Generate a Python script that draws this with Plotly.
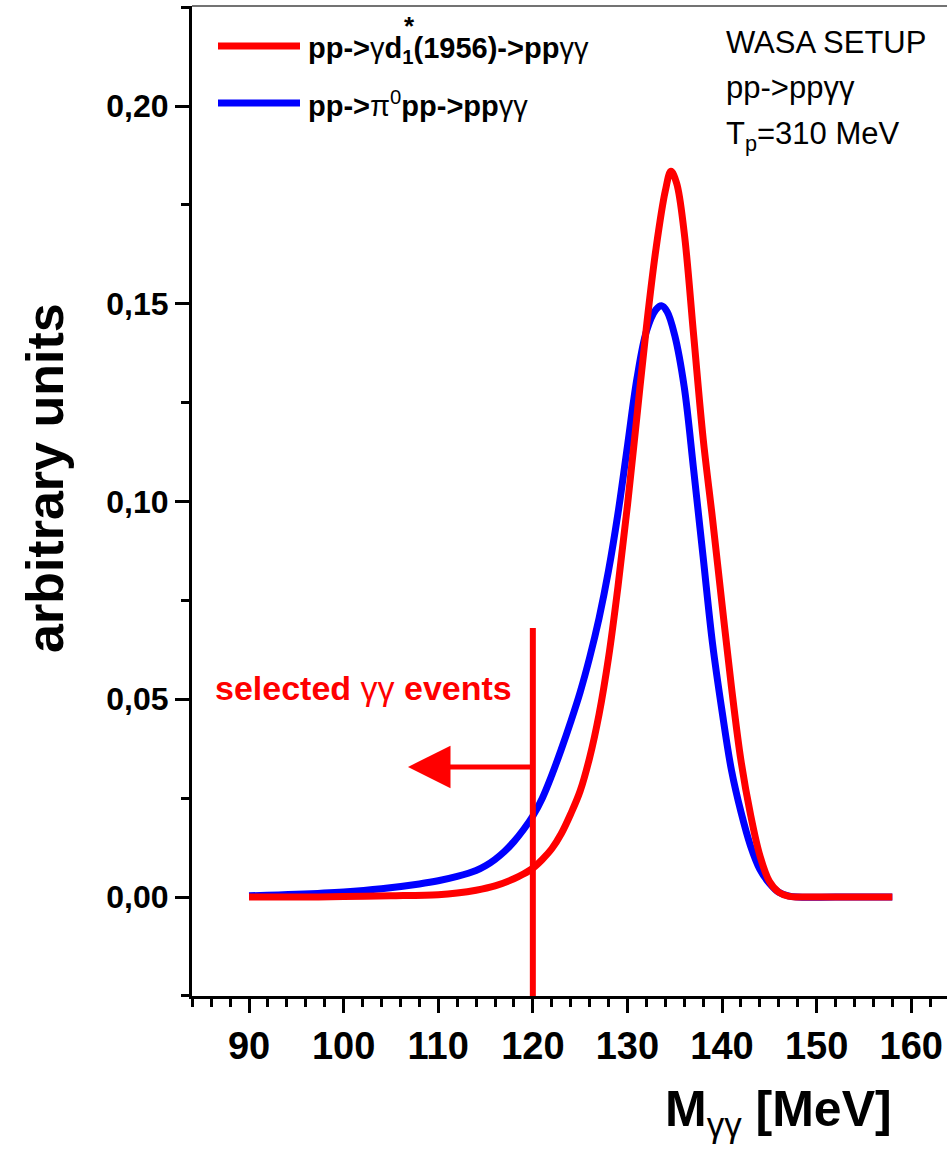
import plotly.graph_objects as go

# ---- data ----
red_x = [90, 95, 100, 105, 110, 112, 114, 116, 118, 119, 120, 121, 122, 123, 124, 125,
         126, 127, 128, 129, 130, 131, 132, 133, 134, 134.6, 135.2, 136, 137, 138, 139,
         140, 141, 142, 143, 144, 145, 146, 147, 148, 150, 154, 158]
red_y = [0, 0, 0.0001, 0.0003, 0.0006, 0.0010, 0.0017, 0.0028, 0.0046, 0.0058, 0.0073,
         0.0095, 0.0122, 0.0160, 0.0210, 0.0268, 0.0352, 0.0462, 0.0605, 0.0785, 0.0990,
         0.1215, 0.1440, 0.1636, 0.1785, 0.1835, 0.1805, 0.1680, 0.1420, 0.1160, 0.0955,
         0.0740, 0.0530, 0.0345, 0.0210, 0.0105, 0.0040, 0.0012, 0.0002, 0, 0, 0, 0]

blue_x = [90, 95, 100, 104, 108, 110, 112, 114, 115, 116, 117, 118, 119, 120, 121, 122,
          123, 124, 125, 126, 127, 128, 129, 130, 131, 132, 133, 133.6, 134.2, 135, 136,
          137, 138, 139, 140, 141, 142, 143, 144, 145, 146, 147, 148, 152, 158]
blue_y = [0.0003, 0.0007, 0.0013, 0.0021, 0.0033, 0.0041, 0.0052, 0.0067, 0.0079, 0.0095,
          0.0115, 0.0140, 0.0170, 0.0205, 0.0250, 0.0308, 0.0373, 0.0443, 0.0518, 0.0605,
          0.0705, 0.0825, 0.0970, 0.1140, 0.1310, 0.1430, 0.1485, 0.1495, 0.1480, 0.1420,
          0.1290, 0.1080, 0.0860, 0.0640, 0.0470, 0.0320, 0.0215, 0.0130, 0.0070, 0.0035,
          0.0012, 0.0003, 0, 0, 0]

cut_x = [120, 120]
cut_y = [-0.026, 0.068]
arrow_tip_x = 106.8
arrow_y = 0.0329

x_ticks = [90, 100, 110, 120, 130, 140, 150, 160]
y_ticks = [0.0, 0.05, 0.10, 0.15, 0.20]

red_name = "pp->γd*1(1956)->ppγγ"
blue_name = "pp->π0pp->ppγγ"

FONT = "Liberation Sans, Arial, sans-serif"
RED = "#ff0000"
BLUE = "#0000ff"

fig = go.Figure()
fig.add_trace(go.Scatter(x=blue_x, y=blue_y, mode="lines", name=blue_name,
                         line=dict(color=BLUE, width=7, shape="spline", smoothing=1.0),
                         showlegend=False))
fig.add_trace(go.Scatter(x=red_x, y=red_y, mode="lines", name=red_name,
                         line=dict(color=RED, width=7, shape="spline", smoothing=1.0),
                         showlegend=False))
fig.add_trace(go.Scatter(x=cut_x, y=cut_y, mode="lines", showlegend=False,
                         line=dict(color=RED, width=6)))

L, R, T, B = 192, 0, 6, 157
W, H = 947, 1153
pw, ph = W - L - R, H - T - B
def px(xp):
    return (xp - L) / pw
def py(yp):
    return (H - B - yp) / ph

annotations = [
    dict(x=arrow_tip_x, y=arrow_y, ax=cut_x[0], ay=arrow_y, xref="x", yref="y",
         axref="x", ayref="y", showarrow=True, arrowhead=2, arrowsize=1.7,
         arrowwidth=5, arrowcolor=RED, text=""),
    dict(x=px(213), y=py(688), xref="paper", yref="paper", xanchor="left", yanchor="middle",
         showarrow=False, text="<b>selected </b>γγ<b> events</b>",
         font=dict(family=FONT, size=34, color=RED)),
    # legend
    dict(x=px(306), y=py(50), xref="paper", yref="paper", xanchor="left", yanchor="middle",
         showarrow=False, text="<b>pp-></b>γ<b>d<sub>1</sub>(1956)->pp</b>γγ",
         font=dict(family=FONT, size=29, color="black")),
    dict(x=px(409), y=py(26), xref="paper", yref="paper", xanchor="center", yanchor="middle",
         showarrow=False, text="<b>*</b>",
         font=dict(family=FONT, size=26, color="black")),
    dict(x=px(306), y=py(104), xref="paper", yref="paper", xanchor="left", yanchor="middle",
         showarrow=False, text="<b>pp-></b>π<sup>0</sup><b>pp->pp</b>γγ",
         font=dict(family=FONT, size=29, color="black")),
    # top-right text
    dict(x=px(724), y=py(42), xref="paper", yref="paper", xanchor="left", yanchor="middle",
         showarrow=False, text="WASA SETUP", font=dict(family=FONT, size=31, color="black")),
    dict(x=px(724), y=py(88), xref="paper", yref="paper", xanchor="left", yanchor="middle",
         showarrow=False, text="pp->ppγγ", font=dict(family=FONT, size=31, color="black")),
    dict(x=px(724), y=py(136), xref="paper", yref="paper", xanchor="left", yanchor="middle",
         showarrow=False, text="T<sub>p</sub>=310 MeV", font=dict(family=FONT, size=31, color="black")),
    # axis titles
    dict(x=px(45), y=py(478), xref="paper", yref="paper", xanchor="center", yanchor="middle",
         showarrow=False, textangle=-90, text="<b>arbitrary units</b>",
         font=dict(family=FONT, size=52, color="black")),
    dict(x=px(778), y=py(1112), xref="paper", yref="paper", xanchor="center", yanchor="middle",
         showarrow=False, text="<b>M</b><sub>γγ</sub><b> [MeV]</b>",
         font=dict(family=FONT, size=50, color="black")),
]

shapes = [
    dict(type="line", xref="paper", yref="paper", x0=px(218), x1=px(300), y0=py(46), y1=py(46),
         line=dict(color=RED, width=7)),
    dict(type="line", xref="paper", yref="paper", x0=px(218), x1=px(300), y0=py(103), y1=py(103),
         line=dict(color=BLUE, width=7)),
    dict(type="line", xref="paper", yref="paper", x0=0, x1=1, y0=1, y1=1,
         line=dict(color="#444444", width=1.5)),
]

fig.update_layout(
    width=W, height=H,
    margin=dict(l=L, r=R, t=T, b=B, pad=0),
    paper_bgcolor="white", plot_bgcolor="white",
    separators=",.",
    annotations=annotations, shapes=shapes,
    showlegend=False,
)
fig.update_xaxes(
    range=[83.97, 163.78], tickmode="array", tickvals=x_ticks,
    ticktext=[str(v) for v in x_ticks],
    ticks="outside", ticklen=14, tickwidth=2.5, tickcolor="black",
    showline=True, linecolor="black", linewidth=3, showgrid=False, zeroline=False,
    tickfont=dict(family=FONT, size=38, color="black", weight="bold"),
    minor=dict(dtick=2, tick0=84, ticks="outside", ticklen=8, tickwidth=2.5,
               tickcolor="black", showgrid=False),
)
fig.update_yaxes(
    range=[-0.02503, 0.2253], tickmode="array", tickvals=y_ticks,
    tickformat=".2f",
    ticks="outside", ticklen=14, tickwidth=2.5, tickcolor="black",
    showline=True, linecolor="black", linewidth=3, showgrid=False, zeroline=False,
    tickfont=dict(family=FONT, size=32, color="black", weight="bold"),
    minor=dict(dtick=0.025, tick0=0, ticks="outside", ticklen=8, tickwidth=2.5,
               tickcolor="black", showgrid=False),
)

fig.write_html("out.html")
